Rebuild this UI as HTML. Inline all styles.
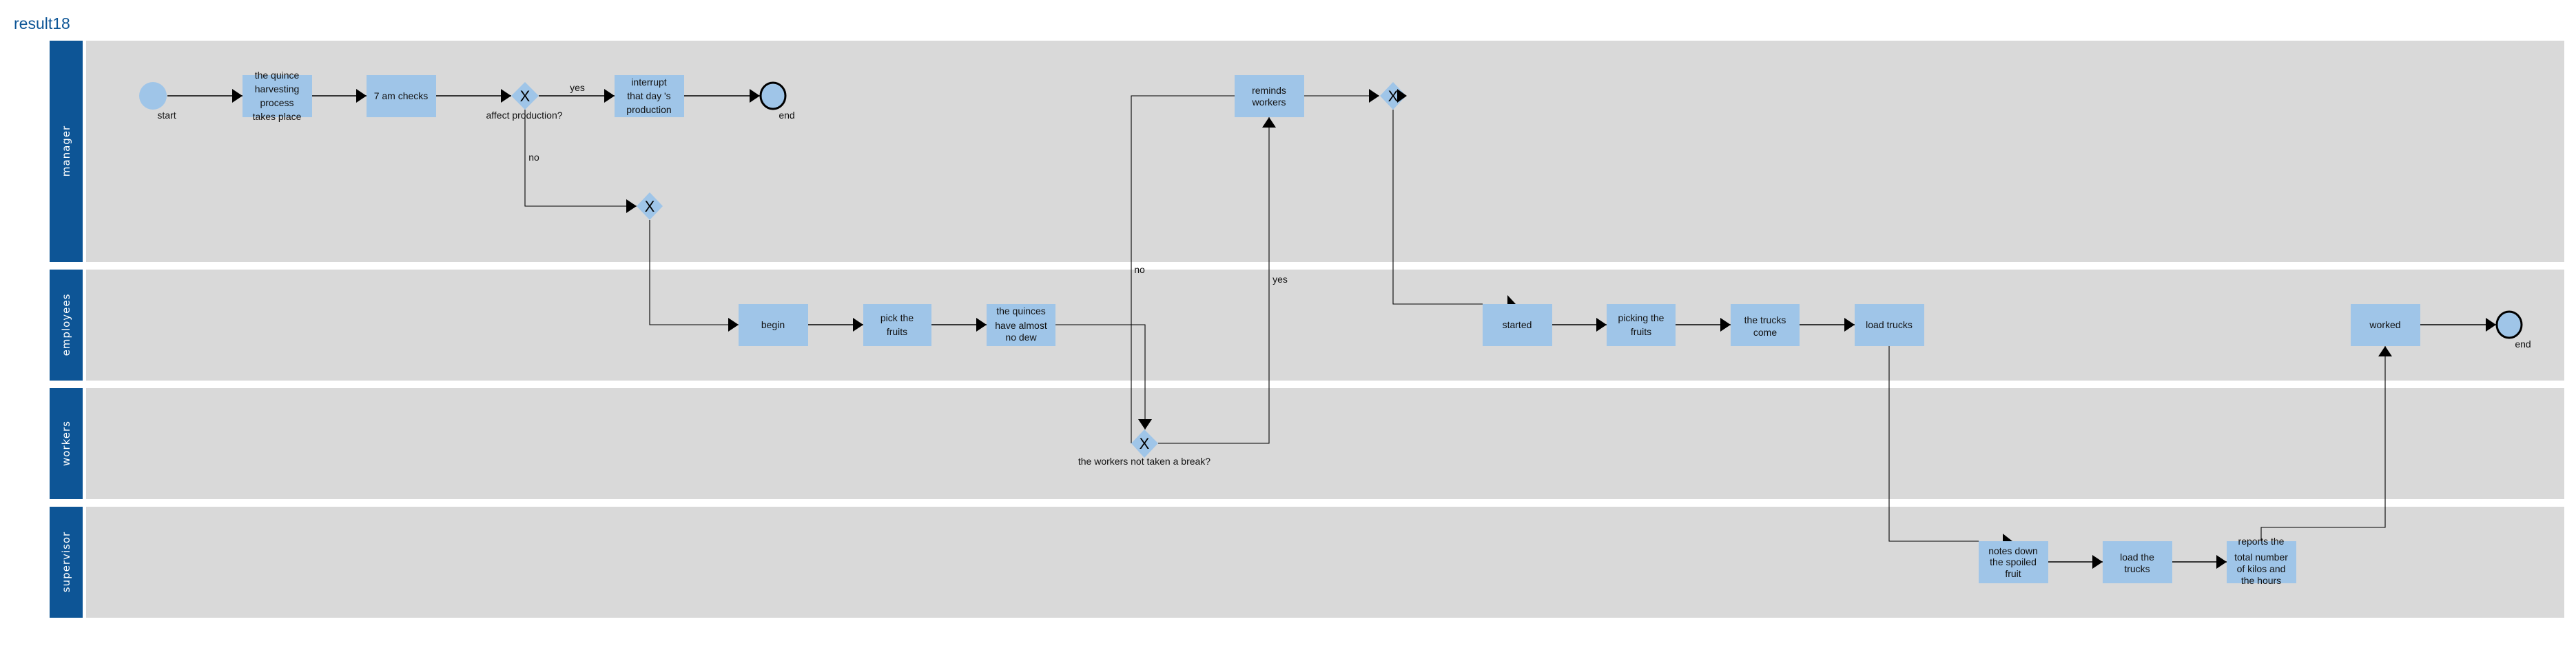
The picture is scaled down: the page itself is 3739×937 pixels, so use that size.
<!DOCTYPE html>
<html><head><meta charset="utf-8"><style>
html,body{margin:0;padding:0;background:#fff;}
svg{display:block;font-family:"Liberation Sans",Arial,sans-serif;}
.t{font-size:14px;fill:#111;text-anchor:middle;}
.ln{stroke:#000;stroke-width:1.5;fill:none;}
.ln1{stroke:#000;stroke-width:1.1;fill:none;}
.tk{fill:#9fc5e8;}
.lane{fill:#d9d9d9;}
.hd{fill:#0d5596;}
.lt{font-family:"DejaVu Sans",sans-serif;font-size:15px;fill:#fff;text-anchor:middle;letter-spacing:1px;}
.x{font-size:22px;fill:#000;text-anchor:middle;}
</style></head><body>
<svg width="3739" height="937" viewBox="0 0 3739 937" xmlns="http://www.w3.org/2000/svg">
<defs>
<marker id="a" markerWidth="16" markerHeight="20" refX="15" refY="10" orient="auto" markerUnits="userSpaceOnUse"><path d="M0,0 L15,10 L0,20 Z" fill="#000"/></marker>
</defs>
<text x="20" y="42" style="font-size:23px;fill:#0d5596;">result18</text>

<rect class="hd" x="72" y="59" width="48" height="321"/><rect class="lane" x="125" y="59" width="3597" height="321"/>
<rect class="hd" x="72" y="391" width="48" height="161"/><rect class="lane" x="125" y="391" width="3597" height="161"/>
<rect class="hd" x="72" y="563" width="48" height="161"/><rect class="lane" x="125" y="563" width="3597" height="161"/>
<rect class="hd" x="72" y="735" width="48" height="161"/><rect class="lane" x="125" y="735" width="3597" height="161"/>
<text class="lt" transform="translate(101,219) rotate(-90)">manager</text>
<text class="lt" transform="translate(101,471) rotate(-90)">employees</text>
<text class="lt" transform="translate(101,643) rotate(-90)">workers</text>
<text class="lt" transform="translate(101,815) rotate(-90)">supervisor</text>

<line class="ln" x1="243" y1="139" x2="352" y2="139" marker-end="url(#a)"/>
<line class="ln" x1="453" y1="139" x2="532" y2="139" marker-end="url(#a)"/>
<line class="ln" x1="633" y1="139" x2="742" y2="139" marker-end="url(#a)"/>
<line class="ln" x1="782" y1="139" x2="892" y2="139" marker-end="url(#a)"/>
<line class="ln" x1="993" y1="139" x2="1103" y2="139" marker-end="url(#a)"/>
<polyline class="ln1" points="762,159 762,299 924,299" marker-end="url(#a)"/>
<polyline class="ln1" points="943,319 943,471 1072,471" marker-end="url(#a)"/>
<line class="ln" x1="1173" y1="471" x2="1253" y2="471" marker-end="url(#a)"/>
<line class="ln" x1="1352" y1="471" x2="1432" y2="471" marker-end="url(#a)"/>
<polyline class="ln1" points="1532,471 1662,471 1662,623" marker-end="url(#a)"/>
<polyline class="ln1" points="1642,643 1642,139 2002,139" marker-end="url(#a)"/>
<polyline class="ln1" points="1681,643 1842,643 1842,170" marker-end="url(#a)"/>
<polyline class="ln1" points="2022,159 2022,441 2152,441"/>
<path d="M2188,428 L2200,441 L2188,441 Z" fill="#000"/>
<line class="ln" x1="2253" y1="471" x2="2332" y2="471" marker-end="url(#a)"/>
<line class="ln" x1="2432" y1="471" x2="2512" y2="471" marker-end="url(#a)"/>
<line class="ln" x1="2612" y1="471" x2="2692" y2="471" marker-end="url(#a)"/>
<polyline class="ln1" points="2742,502 2742,785 2872,785"/>
<path d="M2907,774 L2921,785 L2907,785 Z" fill="#000"/>
<line class="ln" x1="2973" y1="815" x2="3052" y2="815" marker-end="url(#a)"/>
<line class="ln" x1="3153" y1="815" x2="3232" y2="815" marker-end="url(#a)"/>
<polyline class="ln1" points="3282,785 3282,765 3462,765 3462,502" marker-end="url(#a)"/>
<line class="ln" x1="3513" y1="471" x2="3623" y2="471" marker-end="url(#a)"/>

<ellipse cx="222" cy="139" rx="20" ry="20" fill="#9fc5e8"/>
<text class="t" x="242" y="172">start</text>
<ellipse cx="1122" cy="139" rx="18" ry="19" fill="#9fc5e8" stroke="#000" stroke-width="3"/>
<text class="t" x="1142" y="172">end</text>
<ellipse cx="3642" cy="471" rx="18" ry="19" fill="#9fc5e8" stroke="#000" stroke-width="3"/>
<text class="t" x="3662" y="504">end</text>

<path d="M762,119 L782,139 L762,159 L742,139 Z" fill="#9fc5e8"/><text class="x" x="762" y="147">X</text>
<text class="t" x="761" y="172">affect production?</text>
<text class="t" x="775" y="233">no</text>
<text class="t" x="838" y="132">yes</text>
<path d="M943,279 L962,299 L943,319 L924,299 Z" fill="#9fc5e8"/><text class="x" x="943" y="307">X</text>
<path d="M1661,623 L1681,643 L1661,664 L1642,643 Z" fill="#9fc5e8"/><text class="x" x="1661" y="651">X</text>
<text class="t" x="1661" y="674">the workers not taken a break?</text>
<text class="t" x="1654" y="396">no</text>
<text class="t" x="1858" y="410">yes</text>
<path d="M2022,119 L2041,139 L2022,159 L2003,139 Z" fill="#9fc5e8"/><text class="x" x="2022" y="147">X</text>
<path d="M2028,129 L2042,139 L2028,149 Z" fill="#000"/>

<rect class="tk" x="352" y="109" width="101" height="61"/>
<text class="t" x="402" y="114">the quince</text><text class="t" x="402" y="134">harvesting</text><text class="t" x="402" y="154">process</text><text class="t" x="402" y="174">takes place</text>
<rect class="tk" x="532" y="109" width="101" height="61"/><text class="t" x="582" y="144">7 am checks</text>
<rect class="tk" x="892" y="109" width="101" height="61"/>
<text class="t" x="942" y="124">interrupt</text><text class="t" x="942" y="144">that day 's</text><text class="t" x="942" y="164">production</text>
<rect class="tk" x="1792" y="109" width="101" height="61"/>
<text class="t" x="1842" y="136">reminds</text><text class="t" x="1842" y="153">workers</text>

<rect class="tk" x="1072" y="441" width="101" height="61"/><text class="t" x="1122" y="476">begin</text>
<rect class="tk" x="1253" y="441" width="99" height="61"/><text class="t" x="1302" y="466">pick the</text><text class="t" x="1302" y="486">fruits</text>
<rect class="tk" x="1432" y="441" width="100" height="61"/>
<text class="t" x="1482" y="456">the quinces</text><text class="t" x="1482" y="477">have almost</text><text class="t" x="1482" y="494">no dew</text>
<rect class="tk" x="2152" y="441" width="101" height="61"/><text class="t" x="2202" y="476">started</text>
<rect class="tk" x="2332" y="441" width="100" height="61"/><text class="t" x="2382" y="466">picking the</text><text class="t" x="2382" y="486">fruits</text>
<rect class="tk" x="2512" y="441" width="100" height="61"/><text class="t" x="2562" y="469">the trucks</text><text class="t" x="2562" y="487">come</text>
<rect class="tk" x="2692" y="441" width="101" height="61"/><text class="t" x="2742" y="476">load trucks</text>
<rect class="tk" x="3412" y="441" width="101" height="61"/><text class="t" x="3462" y="476">worked</text>

<rect class="tk" x="2872" y="785" width="101" height="61"/>
<text class="t" x="2922" y="804">notes down</text><text class="t" x="2922" y="820">the spoiled</text><text class="t" x="2922" y="837">fruit</text>
<rect class="tk" x="3052" y="785" width="101" height="61"/><text class="t" x="3102" y="813">load the</text><text class="t" x="3102" y="830">trucks</text>
<rect class="tk" x="3232" y="785" width="101" height="61"/>
<text class="t" x="3282" y="790">reports the</text><text class="t" x="3282" y="813">total number</text><text class="t" x="3282" y="830">of kilos and</text><text class="t" x="3282" y="847">the hours</text>
</svg>
</body></html>
